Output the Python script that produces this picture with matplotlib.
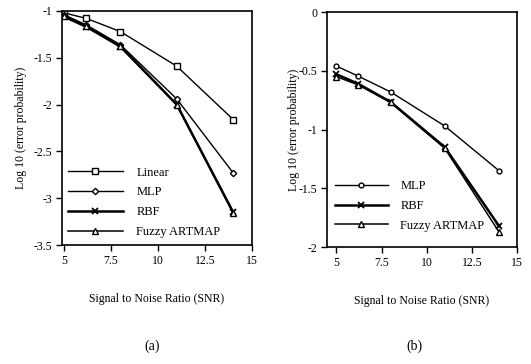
import matplotlib
matplotlib.use("Agg")
import matplotlib.pyplot as plt

snr = [5, 6.2, 8, 11, 14]

# Panel (a)
a_linear = [-1.02, -1.08, -1.22, -1.59, -2.16]
a_mlp = [-1.04, -1.15, -1.36, -1.94, -2.73]
a_rbf = [-1.06, -1.17, -1.38, -2.00, -3.15]
a_fuzzy = [-1.05, -1.16, -1.37, -2.00, -3.16]

# Panel (b)
b_mlp = [-0.46, -0.545, -0.68, -0.97, -1.35]
b_rbf = [-0.53, -0.61, -0.765, -1.15, -1.82]
b_fuzzy = [-0.55, -0.62, -0.77, -1.16, -1.87]

xticks = [5, 7.5, 10, 12.5, 15]
xticklabels = ["5", "7.5", "10", "12.5", "15"]
a_yticks = [-1, -1.5, -2, -2.5, -3, -3.5]
a_yticklabels = ["-1", "-1.5", "-2", "-2.5", "-3", "-3.5"]
b_yticks = [0, -0.5, -1, -1.5, -2]
b_yticklabels = ["0", "-0.5", "-1", "-1.5", "-2"]

plt.rcParams['font.family'] = ['Liberation Serif', 'DejaVu Serif']
plt.rcParams['font.size'] = 8.5

fig = plt.figure(figsize=(5.31, 3.64), dpi=100)
ax1 = fig.add_axes([0.1168, 0.3269, 0.3578, 0.643])
ax2 = fig.add_axes([0.6158, 0.3214, 0.3578, 0.6456])

mk = dict(markerfacecolor='white', markeredgecolor='black', color='black')

ax1.plot(snr, a_linear, marker='s', markersize=4, linewidth=1.0, label='Linear', **mk)
ax1.plot(snr, a_mlp, marker='D', markersize=3.2, linewidth=1.0, label='MLP', **mk)
ax1.plot(snr, a_rbf, marker='x', markersize=4, linewidth=1.8, label='RBF', color='black', markeredgewidth=1.3)
ax1.plot(snr, a_fuzzy, marker='^', markersize=4, linewidth=1.1, label='Fuzzy ARTMAP', **mk)

ax2.plot(snr, b_mlp, marker='o', markersize=3.5, linewidth=1.0, label='MLP', **mk)
ax2.plot(snr, b_rbf, marker='x', markersize=4, linewidth=1.8, label='RBF', color='black', markeredgewidth=1.3)
ax2.plot(snr, b_fuzzy, marker='^', markersize=4, linewidth=1.1, label='Fuzzy ARTMAP', **mk)

for ax in (ax1, ax2):
    ax.set_xticks(xticks)
    ax.set_xticklabels(xticklabels)
    ax.tick_params(direction='out', length=4, width=1, labelsize=8.5, pad=3)
    for s in ax.spines.values():
        s.set_linewidth(1.2)
    ax.set_xlabel('Signal to Noise Ratio (SNR)', fontsize=8.5, labelpad=19)

ax1.set_ylabel('Log 10 (error probability)', fontsize=8.5, labelpad=5)
ax2.set_ylabel('Log 10 (error probability)', fontsize=8.5, labelpad=-1)

ax1.set_xlim(4.9, 15)
ax1.set_ylim(-3.5, -1)
ax1.set_yticks(a_yticks)
ax1.set_yticklabels(a_yticklabels)

ax2.set_xlim(4.48, 15)
ax2.set_ylim(-2, 0)
ax2.set_yticks(b_yticks)
ax2.set_yticklabels(b_yticklabels)

ax1.legend(loc='lower left', bbox_to_anchor=(0.03, 0.03), frameon=False, fontsize=9,
           handlelength=4.4, handletextpad=1.1, labelspacing=0.62, borderpad=0, borderaxespad=0)
ax2.legend(loc='lower left', bbox_to_anchor=(0.04, 0.065), frameon=False, fontsize=9,
           handlelength=4.3, handletextpad=0.95, labelspacing=0.62, borderpad=0, borderaxespad=0)

fig.text(152/531, 1 - 346/364, '(a)', ha='center', va='center', fontsize=10)
fig.text(414/531, 1 - 346/364, '(b)', ha='center', va='center', fontsize=10)

fig.savefig('out.png', dpi=100)
